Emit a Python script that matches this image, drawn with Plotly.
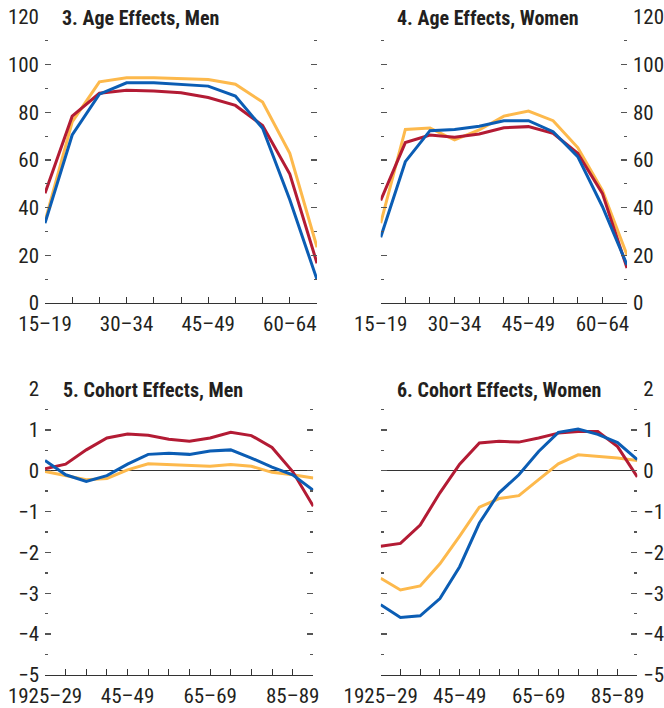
import plotly.graph_objects as go

W, H = 664, 708

age_groups = ["15–19", "20–24", "25–29", "30–34", "35–39", "40–44",
              "45–49", "50–54", "55–59", "60–64", "65–69"]
age_tick_labels = ["15–19", "", "", "30–34", "", "", "45–49", "", "", "60–64", ""]

cohorts = ["1925–29", "1930–34", "1935–39", "1940–44", "1945–49", "1950–54",
           "1955–59", "1960–64", "1965–69", "1970–74", "1975–79", "1980–84",
           "1985–89", "1990–94"]
cohort_tick_labels = ["1925–29", "", "", "", "45–49", "", "", "", "65–69",
                      "", "", "", "85–89", ""]

# Panel 3: Age effects, men
men_age_red = [46, 78.4, 88, 89.3, 89, 88.2, 86.2, 82.9, 74.5, 54.1, 16.7]
men_age_blue = [33.5, 70.5, 87.6, 92.4, 92.4, 91.8, 91, 86.8, 73.3, 43.3, 9.8]
men_age_yellow = [34.2, 76, 92.8, 94.5, 94.5, 94.3, 93.8, 91.8, 84.3, 62.8, 23.4]

# Panel 4: Age effects, women
women_age_red = [43, 67.3, 70.5, 69.5, 70.9, 73.5, 74, 71.2, 62.8, 46, 14.7]
women_age_blue = [27.6, 59.3, 72.3, 72.8, 74.2, 76.5, 76.5, 71.9, 61.4, 40.5, 16]
women_age_yellow = [33.5, 72.8, 73.4, 68.4, 72.6, 78.4, 80.5, 76.5, 65.2, 47.2, 20.2]

# Panel 5: Cohort effects, men
men_coh_red = [0.05, 0.16, 0.51, 0.8, 0.9, 0.87, 0.77, 0.72, 0.8, 0.94, 0.86, 0.57, -0.02, -0.87]
men_coh_blue = [0.25, -0.1, -0.26, -0.12, 0.16, 0.4, 0.43, 0.4, 0.48, 0.51, 0.31, 0.09, -0.1, -0.48]
men_coh_yellow = [-0.02, -0.12, -0.22, -0.19, 0.02, 0.17, 0.15, 0.13, 0.11, 0.15, 0.11, -0.04, -0.1, -0.18]

# Panel 6: Cohort effects, women
women_coh_red = [-1.85, -1.78, -1.33, -0.54, 0.16, 0.68, 0.72, 0.7, 0.8, 0.92, 0.96, 0.96, 0.59, -0.15]
women_coh_blue = [-3.28, -3.59, -3.55, -3.13, -2.35, -1.28, -0.54, -0.1, 0.47, 0.94, 1.02, 0.89, 0.69, 0.27]
women_coh_yellow = [-2.63, -2.92, -2.82, -2.28, -1.6, -0.89, -0.68, -0.61, -0.22, 0.17, 0.39, 0.35, 0.31, 0.25]

titles = ["3. Age Effects, Men", "4. Age Effects, Women",
          "5. Cohort Effects, Men", "6. Cohort Effects, Women"]

RED = "#B31B34"
BLUE = "#0B5DB4"
YELLOW = "#FDB94C"
AX = "#333333"
FONT = "Liberation Sans Narrow, Roboto Condensed, Arial Narrow, Liberation Sans, sans-serif"

# panel geometry in pixels: (x0, x1, ytop, ybottom)
panels = [
    (45, 317, 17, 303),
    (380.7, 627, 17, 303),
    (45, 313.3, 389, 675),
    (380.7, 637.3, 389, 675),
]

fig = go.Figure()

series = [
    (age_groups, [men_age_red, men_age_blue, men_age_yellow]),
    (age_groups, [women_age_red, women_age_blue, women_age_yellow]),
    (cohorts, [men_coh_red, men_coh_blue, men_coh_yellow]),
    (cohorts, [women_coh_red, women_coh_blue, women_coh_yellow]),
]
colors = [RED, BLUE, YELLOW]
draw_order = [2, 0, 1]

layout = {}
for i, ((x0, x1, yt, yb), (cats, ys)) in enumerate(zip(panels, series)):
    n = i + 1
    xa = "x" if n == 1 else f"x{n}"
    ya = "y" if n == 1 else f"y{n}"
    for k in draw_order:
        fig.add_trace(go.Scatter(x=cats, y=ys[k], mode="lines",
                                 line=dict(color=colors[k], width=3),
                                 xaxis=xa, yaxis=ya, showlegend=False,
                                 hoverinfo="skip"))
    is_age = i < 2
    ticktext = age_tick_labels if is_age else cohort_tick_labels
    layout["xaxis" if n == 1 else f"xaxis{n}"] = dict(
        domain=[x0 / W, x1 / W], anchor=ya, type="category",
        categoryorder="array", categoryarray=cats,
        range=[0, len(cats) - 1], automargin=False,
        tickmode="array", tickvals=cats, ticktext=ticktext,
        ticks="inside", ticklen=6, tickwidth=1, tickcolor=AX,
        showline=True, linecolor=AX, linewidth=1,
        showgrid=False, zeroline=False, ticklabelstandoff=2,
        tickfont=dict(family=FONT, size=21, color="#231F20"),
    )
    right = i in (1, 3)
    if is_age:
        yrange, dt, mdt = [0, 120], 20, 10
    else:
        yrange, dt, mdt = [-5, 2], 1, 0.5
    layout["yaxis" if n == 1 else f"yaxis{n}"] = dict(
        domain=[1 - yb / H, 1 - yt / H], anchor=xa, range=yrange,
        side="right" if right else "left", automargin=False,
        tickmode="linear", tick0=0, dtick=dt,
        ticks="inside", ticklen=6, tickwidth=1.3, tickcolor="#555555",
        mirror="ticks", showline=False, showgrid=False,
        zeroline=not is_age, zerolinecolor=AX, zerolinewidth=1,
        minor=dict(dtick=mdt, tick0=0, ticks="inside", ticklen=3,
                   tickwidth=1.3, tickcolor="#555555", showgrid=False),
        ticklabelstandoff=5,
        tickfont=dict(family=FONT, size=21, color="#231F20"),
    )

title_pos = [(60, 18), (395, 18), (61, 390), (395, 390)]
annotations = []
for t, (tx, ty) in zip(titles, title_pos):
    annotations.append(dict(
        text=f"<b>{t}</b>", xref="paper", yref="paper",
        x=tx / W, y=1 - ty / H, xanchor="left", yanchor="middle",
        showarrow=False,
        font=dict(family=FONT, size=20, color="#231F20"),
    ))

fig.update_layout(
    width=W, height=H,
    margin=dict(l=0, r=0, t=0, b=0, autoexpand=False),
    paper_bgcolor="white", plot_bgcolor="white",
    annotations=annotations,
    **layout,
)

fig.write_html("out.html",
               config={"displayModeBar": False, "staticPlot": True},
               post_script="document.body.style.margin='0';document.body.style.overflow='hidden';")
